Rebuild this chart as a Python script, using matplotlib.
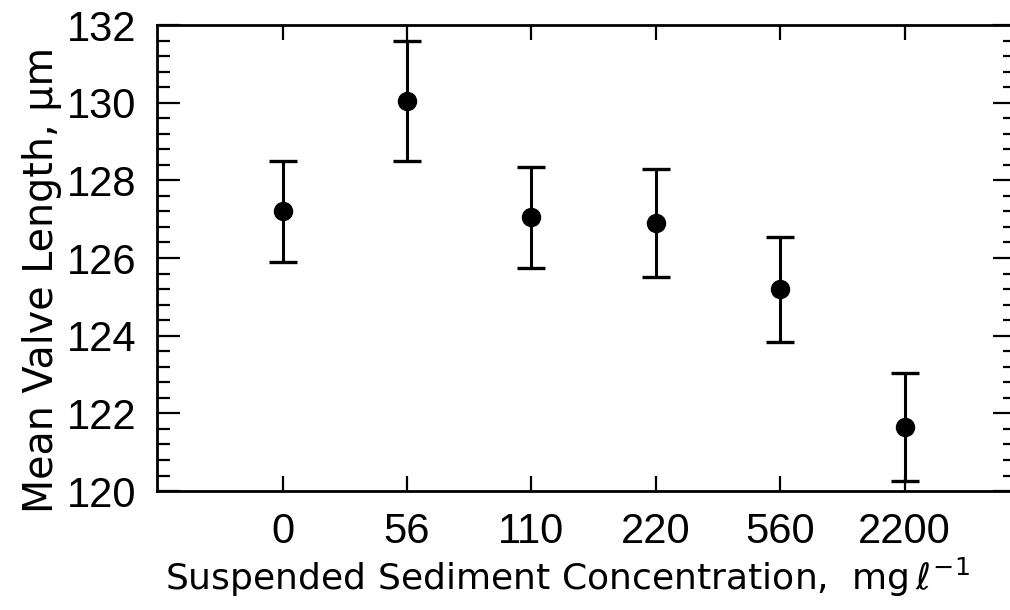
import numpy as np
import matplotlib
matplotlib.use("Agg")
import matplotlib.pyplot as plt
from matplotlib.ticker import MultipleLocator

plt.rcParams["font.family"] = ["DejaVu Sans"]
plt.rcParams["mathtext.fontset"] = "dejavusans"

# ---- data ----
concentration = ["0", "56", "110", "220", "560", "2200"]
mean_length = [127.2, 130.05, 127.05, 126.9, 125.2, 121.65]
std_err = [1.3, 1.55, 1.3, 1.4, 1.35, 1.4]

x = np.arange(len(concentration))

fig = plt.figure(figsize=(10.1, 6.1), dpi=100)
ax = fig.add_axes([0.1554, 0.195, 0.851, 0.764])

ax.errorbar(x, mean_length, yerr=std_err, fmt="o", color="black",
            markersize=13, elinewidth=2.2, capsize=10, capthick=2.4)

ax.set_xlim(-1.01, 5.9)
ax.set_ylim(120, 132)

ax.set_xticks(x)
ax.set_xticklabels(concentration)
ax.yaxis.set_major_locator(MultipleLocator(2))
ax.yaxis.set_minor_locator(MultipleLocator(0.4))

ax.tick_params(axis="y", which="major", direction="in", length=16.5, width=1.6,
               left=True, right=True, labelsize=30, pad=15)
ax.tick_params(axis="y", which="minor", direction="in", length=9.5, width=1.6,
               left=True, right=True)
ax.tick_params(axis="x", which="major", direction="in", length=11, width=1.6,
               top=True, bottom=True, labelsize=30, pad=15)
ax.tick_params(axis="x", which="minor", bottom=False, top=False)

# narrower face for the tick numbers
for lab in ax.get_xticklabels() + ax.get_yticklabels():
    lab.set_family("Liberation Sans")

for side in ["left", "bottom", "top", "right"]:
    ax.spines[side].set_linewidth(2)

ax.set_ylabel("Mean Valve Length, μm", fontsize=28.5)
ax.yaxis.set_label_coords(-0.1106, 0.453)
ax.set_xlabel(r"Suspended Sediment Concentration,  mg$\,\ell^{-1}$", fontsize=26)
ax.xaxis.set_label_coords(0.477, -0.1395)

fig.savefig("out.png", dpi=100)
